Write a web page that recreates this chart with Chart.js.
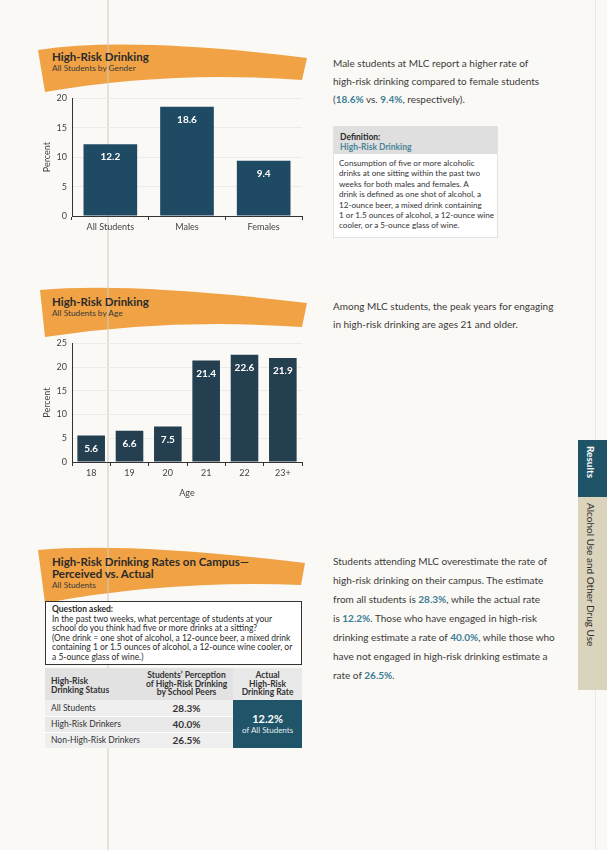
<!DOCTYPE html>
<html>
<head>
<meta charset="utf-8">
<script src="https://cdn.jsdelivr.net/npm/chart.js@4"></script>
<style>
  body { margin: 0; background: #f9f8f4; }
  #page { position: relative; width: 607px; height: 850px; overflow: hidden; background: #faf9f5; font-family: Lato, "Open Sans", sans-serif; color: #3a3a3a; }
  .abs { position: absolute; }
  .nowrap { white-space: nowrap; }
  .hl { color: #3c7d95; font-weight: bold; }
  .btitle { font-weight: bold; font-size: 11.5px; color: #2a2a2a; line-height: 12px; }
  .bsub { font-size: 8.3px; color: #3a3a3a; line-height: 9px; }
  canvas { position: absolute; }
  table { border-collapse: collapse; }
</style>
</head>
<body>
<div id="page">
  <!-- orange banners -->
  <svg class="abs" style="left:0;top:0" width="607" height="850">
    <path d="M38,50 Q130,36 307,58 L302,80 Q170,70 45,92 Z" fill="#f0a244"/>
    <path d="M40,290 Q130,282 307,303 L302,327 Q170,318 45,337 Z" fill="#f0a244"/>
    <path d="M38,550 Q130,542 305,563 L301,585 Q170,580 45,603 Z" fill="#f0a244"/>
    <line x1="108" y1="0" x2="108" y2="850" stroke="#cfcac0" stroke-width="1"/>
    <line x1="595.5" y1="0" x2="595.5" y2="440" stroke="#ebe8e1" stroke-width="1"/>
    <line x1="595.5" y1="690" x2="595.5" y2="850" stroke="#ebe8e1" stroke-width="1"/>
  </svg>

  <!-- section 1 -->
  <div class="abs nowrap btitle" style="left:52px;top:51px">High-Risk Drinking</div>
  <div class="abs nowrap bsub" style="left:52px;top:64px">All Students by Gender</div>
  <canvas id="genderChart" width="275" height="150" style="left:30px;top:88px"></canvas>

  <div class="abs nowrap" style="left:333px;top:54px;font-size:10px;line-height:18px">
    Male students at MLC report a higher rate of<br>
    high-risk drinking compared to female students<br>
    (<span class="hl">18.6%</span> vs. <span class="hl">9.4%</span>, respectively).
  </div>

  <div class="abs" style="left:333px;top:126px;width:165px;height:112px;background:#fff;border:1px solid #e2e2e2;box-sizing:border-box">
    <div style="background:#dfdfdf;height:27px;padding:5px 0 0 6px;box-sizing:border-box;font-size:8.5px;line-height:10px;font-weight:bold">
      <span style="color:#2a2a2a">Definition:</span><br><span style="color:#4a8597">High-Risk Drinking</span>
    </div>
    <div class="nowrap" style="padding:4px 0 0 5px;font-size:8.15px;line-height:10.4px;color:#333">
      Consumption of five or more alcoholic<br>
      drinks at one sitting within the past two<br>
      weeks for both males and females. A<br>
      drink is defined as one shot of alcohol, a<br>
      12-ounce beer, a mixed drink containing<br>
      1 or 1.5 ounces of alcohol, a 12-ounce wine<br>
      cooler, or a 5-ounce glass of wine.
    </div>
  </div>

  <!-- section 2 -->
  <div class="abs nowrap btitle" style="left:52px;top:296px">High-Risk Drinking</div>
  <div class="abs nowrap bsub" style="left:52px;top:309px">All Students by Age</div>
  <canvas id="ageChart" width="275" height="165" style="left:30px;top:333px"></canvas>

  <div class="abs nowrap" style="left:333px;top:297px;font-size:10px;line-height:18px">
    Among MLC students, the peak years for engaging<br>
    in high-risk drinking are ages 21 and older.
  </div>

  <!-- section 3 -->
  <div class="abs nowrap btitle" style="left:52px;top:556px;line-height:11.5px">High-Risk Drinking Rates on Campus—<br>Perceived vs. Actual</div>
  <div class="abs nowrap bsub" style="left:52px;top:581px">All Students</div>

  <div class="abs" style="left:45px;top:601px;width:257px;height:64px;border:1.5px solid #333;background:#fff;box-sizing:border-box;padding:3px 0 0 6px">
    <div class="nowrap" style="font-size:8.5px;line-height:9.5px;color:#2a2a2a">
      <b>Question asked:</b><br>
      In the past two weeks, what percentage of students at your<br>
      school do you think had five or more drinks at a sitting?<br>
      (One drink = one shot of alcohol, a 12-ounce beer, a mixed drink<br>
      containing 1 or 1.5 ounces of alcohol, a 12-ounce wine cooler, or<br>
      a 5-ounce glass of wine.)
    </div>
  </div>

  <table class="abs" style="left:45px;top:668px;width:257px;font-size:8.5px;color:#333">
    <tr style="height:32px">
      <td style="width:92px;background:#e2e2e2;font-weight:bold;line-height:9px;padding:9px 0 0 6px;vertical-align:top;box-sizing:border-box">High-Risk<br>Drinking Status</td>
      <td style="width:95px;background:#e2e2e2;font-weight:bold;line-height:8.6px;text-align:center;padding:0">Students’ Perception<br>of High-Risk Drinking<br>by School Peers</td>
      <td style="width:70px;background:#e9e9e9;font-weight:bold;line-height:8.6px;text-align:center;padding:0">Actual<br>High-Risk<br>Drinking Rate</td>
    </tr>
    <tr style="height:16px">
      <td style="background:#efefef;padding:0 0 0 6px;border-bottom:1px solid #fff">All Students</td>
      <td style="background:#efefef;text-align:center;font-weight:bold;font-size:10px;padding:0;border-bottom:1px solid #fff">28.3%</td>
      <td rowspan="3" style="background:#1f5469;color:#fff;text-align:center;padding:0;line-height:10px">
        <span style="font-weight:bold;font-size:11px">12.2%</span><br><span style="font-size:8px;color:#e8eef0">of All Students</span>
      </td>
    </tr>
    <tr style="height:16px">
      <td style="background:#e9e9e9;padding:0 0 0 6px;border-bottom:1px solid #fff">High-Risk Drinkers</td>
      <td style="background:#e9e9e9;text-align:center;font-weight:bold;font-size:10px;padding:0;border-bottom:1px solid #fff">40.0%</td>
    </tr>
    <tr style="height:16px">
      <td style="background:#efefef;padding:0 0 0 6px" class="nowrap">Non-High-Risk Drinkers</td>
      <td style="background:#efefef;text-align:center;font-weight:bold;font-size:10px;padding:0">26.5%</td>
    </tr>
  </table>

  <div class="abs nowrap" style="left:333px;top:552px;font-size:10px;line-height:19px">
    Students attending MLC overestimate the rate of<br>
    high-risk drinking on their campus. The estimate<br>
    from all students is <span class="hl">28.3%</span>, while the actual rate<br>
    is <span class="hl">12.2%</span>. Those who have engaged in high-risk<br>
    drinking estimate a rate of <span class="hl">40.0%</span>, while those who<br>
    have not engaged in high-risk drinking estimate a<br>
    rate of <span class="hl">26.5%</span>.
  </div>

  <!-- side tabs -->
  <div class="abs" style="left:578px;top:440px;width:29px;height:57px;background:#1f5468"></div>
  <div class="abs nowrap" style="left:585px;top:446px;writing-mode:vertical-rl;color:#fff;font-size:10px;font-weight:bold">Results</div>
  <div class="abs" style="left:578px;top:497px;width:29px;height:193px;background:#dbd4bc"></div>
  <div class="abs nowrap" style="left:585px;top:503px;writing-mode:vertical-rl;color:#2f2f2f;font-size:10px">Alcohol Use and Other Drug Use</div>
</div>

<script>
// gender chart
const genderLabels = ["All Students", "Males", "Females"];
const genderValues = [12.2, 18.6, 9.4];
const genderTicks = [0, 5, 10, 15, 20];

// age chart
const ageLabels = ["18", "19", "20", "21", "22", "23+"];
const ageValues = [5.6, 6.6, 7.5, 21.4, 22.6, 21.9];
const ageTicks = [0, 5, 10, 15, 20, 25];

const font = "Lato";

// white value text near the top of each bar
const barLabels = {
  id: "barLabels",
  afterDatasetsDraw(chart) {
    const ctx = chart.ctx;
    const meta = chart.getDatasetMeta(0);
    ctx.save();
    ctx.fillStyle = "#ffffff";
    ctx.font = "bold 10px " + font;
    ctx.textAlign = "center";
    ctx.textBaseline = "middle";
    meta.data.forEach((bar, i) => {
      ctx.fillText(chart.data.datasets[0].data[i].toFixed(1), bar.x, bar.y + 13);
    });
    ctx.restore();
  }
};

function makeChart(id, labels, values, ticks, color, barPct, xTitle, xHeight) {
  const max = ticks[ticks.length - 1];
  return new Chart(document.getElementById(id), {
    type: "bar",
    data: {
      labels: labels,
      datasets: [{
        data: values,
        backgroundColor: color,
        borderWidth: 0,
        categoryPercentage: 1,
        barPercentage: barPct
      }]
    },
    options: {
      responsive: false,
      animation: false,
      layout: { padding: { top: 9, right: 3, left: 0, bottom: 0 } },
      plugins: { legend: { display: false }, tooltip: { enabled: false } },
      scales: {
        x: {
          grid: { offset: true, drawOnChartArea: false, color: "#333", tickLength: 4 },
          border: { color: "#333", width: 1 },
          ticks: { color: "#444", font: { family: font, size: 9 }, padding: 2 },
          title: { display: !!xTitle, text: xTitle, color: "#444", font: { family: font, size: 9 }, padding: 0 },
          afterFit(scale) { scale.height = xHeight; }
        },
        y: {
          min: 0,
          max: max,
          afterBuildTicks(scale) { scale.ticks = ticks.map(v => ({ value: v })); },
          grid: { color: "#ebebe8", drawTicks: false },
          border: { color: "#333", width: 1 },
          ticks: { color: "#444", font: { family: font, size: 9 }, padding: 5 },
          title: { display: true, text: "Percent", color: "#444", font: { family: font, size: 9 }, padding: { top: 12, bottom: 0 } },
          afterFit(scale) { scale.width = 42; }
        }
      }
    },
    plugins: [barLabels]
  });
}

makeChart("genderChart", genderLabels, genderValues, genderTicks, "#1f4a63", 0.7, "", 22);
makeChart("ageChart", ageLabels, ageValues, ageTicks, "#243f50", 0.72, "Age", 36);
</script>
</body>
</html>
